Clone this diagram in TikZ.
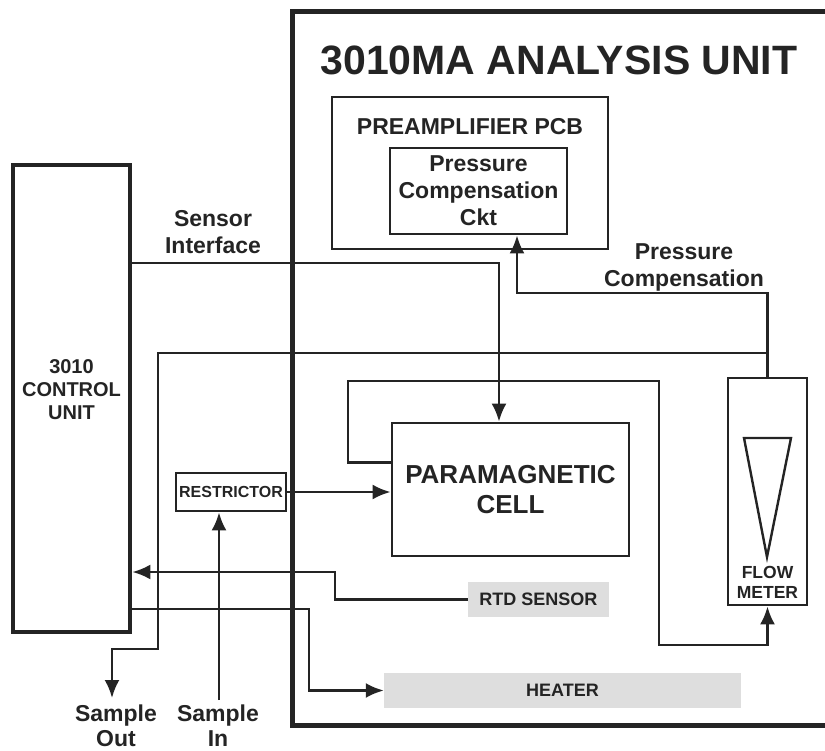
\documentclass[tikz,border=0pt]{standalone}
\usepackage{fontspec}
\setmainfont{Liberation Sans}
\usepackage{tikz}
\usetikzlibrary{positioning,arrows.meta}
\definecolor{ink}{HTML}{242424}
\definecolor{shade}{HTML}{DEDEDE}

\begin{document}
\begin{tikzpicture}[x=1pt, y=-1pt,
    line/.style={draw=ink, line width=2.6pt},
    arr/.style={line, -{Latex[length=18pt,width=15pt]}},
    unitbox/.style={draw=ink, line width=4.6pt, inner sep=0pt},
    blockbox/.style={draw=ink, line width=2.8pt, inner sep=0pt},
    graybox/.style={fill=shade, inner sep=0pt, text=ink},
    lbl/.style={text=ink, align=center, font=\bfseries\fontsize{23}{27}\selectfont}]
  \useasboundingbox (0,0) rectangle (825,751);

  % analysis unit frame, open to the right edge
  \draw[ink, line width=5pt] (835,12) -- (292,12) -- (292,725) -- (835,725);
  \node[anchor=base, text=ink, font=\bfseries\fontsize{41}{48}\selectfont] (title)
    at (559,75) {3010MA ANALYSIS UNIT};

  % boxes
  \node[unitbox, minimum width=117pt, minimum height=467pt] (ctrl) at (71.5,398.5) {};
  \node[text=ink, align=center, font=\bfseries\fontsize{20}{23}\selectfont] (ctrltxt)
    at (71.5,390) {3010\\CONTROL\\UNIT};
  \node[blockbox, minimum width=276pt, minimum height=152pt] (preamp) at (470,173) {};
  \node[lbl] (preamptxt) at (470,127) {PREAMPLIFIER PCB};
  \node[blockbox, minimum width=177pt, minimum height=86pt, lbl] (ckt) at (478.5,191)
    {Pressure\\Compensation\\Ckt};
  \node[blockbox, minimum width=237pt, minimum height=133pt, text=ink, align=center,
    font=\bfseries\fontsize{26}{30}\selectfont] (cell) at (510.5,489.5) {PARAMAGNETIC\\CELL};
  \node[blockbox, minimum width=79pt, minimum height=227pt] (flow) at (767.5,491.5) {};
  \draw[ink, line width=2.4pt, line join=miter] (744,438) -- (791,438) -- (767,557) -- cycle;
  \node[text=ink, align=center, font=\bfseries\fontsize{17.5}{20}\selectfont] (flowtxt)
    at (767.5,582) {FLOW\\METER};
  \node[blockbox, minimum width=110pt, minimum height=38pt, text=ink,
    font=\bfseries\fontsize{16}{19}\selectfont] (restr) at (231,492) {RESTRICTOR};
  \node[graybox, minimum width=141pt, minimum height=35pt,
    font=\bfseries\fontsize{18}{21}\selectfont] (rtd) at (538.5,599.5) {RTD SENSOR};
  \node[graybox, minimum width=357pt, minimum height=35pt,
    font=\bfseries\fontsize{18}{21}\selectfont] (heater) at (562.5,690.5) {HEATER};

  % labels
  \node[lbl] (sensortxt) at (213,232) {Sensor\\Interface};
  \node[lbl] (presstxt) at (684,267) {Pressure\\Compensation};
  \node[lbl, font=\bfseries\fontsize{23}{25}\selectfont] (outtxt) at (116,726) {Sample\\Out};
  \node[lbl, font=\bfseries\fontsize{23}{25}\selectfont] (intxt) at (218,726) {Sample\\In};

  % connectors
  \coordinate (si) at (499,263);
  \draw[arr] (ctrl.east |- si) -| (cell.north -| si);
  \coordinate (pc) at (517,293);
  \draw[arr] (flow.north) |- (pc) -- (ckt.south -| pc);
  \coordinate (so) at (158,353);
  \coordinate (sobend) at (158,649);
  \coordinate (sout) at (112,698);
  \draw[arr] (flow.north |- so) -- (so) -- (sobend) -| (sout);
  \coordinate (lp1) at (348,381);
  \coordinate (lp2) at (659,645);
  \draw[arr] ([yshift=27pt]cell.west) -| (lp1) -| (lp2) -| (flow.south);
  \draw[arr] (restr.east) -- (restr.east -| cell.west);
  \coordinate (sin) at (219,700);
  \draw[arr] (sin) -- (restr.south -| sin);
  \coordinate (rt) at (335,572);
  \draw[arr] (rtd.west) -| (rt) -- (rt -| ctrl.east);
  \coordinate (ht) at (309,609);
  \draw[arr] (ctrl.east |- ht) -- (ht) |- (heater.west);
\end{tikzpicture}
\end{document}
